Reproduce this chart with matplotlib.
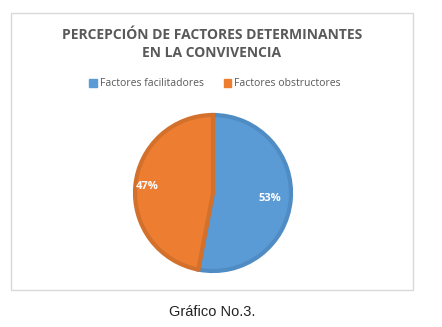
import matplotlib
matplotlib.use('Agg')
import matplotlib.pyplot as plt
from matplotlib.patches import Rectangle, Patch
import numpy as np

# data
categories = ['Factores facilitadores', 'Factores obstructores']
values = [53, 47]
colors = ['#5B9BD5', '#ED7D31']
edge_colors = ['#4F8CC4', '#D2702C']
label_dist = [0.72, 0.83]

title = 'PERCEPCIÓN DE FACTORES DETERMINANTES\nEN LA CONVIVENCIA'
caption = 'Gráfico No.3.'

W, H = 442, 327
fig = plt.figure(figsize=(W / 100, H / 100), dpi=100)
fig.patch.set_facecolor('white')

# chart frame
fig.add_artist(Rectangle((11 / W, 1 - 290 / H), (413 - 11) / W, (290 - 13) / H,
                         transform=fig.transFigure, fill=False,
                         edgecolor='#D9D9D9', linewidth=1.0))

# pie axes: centre (213,193), radius 80 px
cx, cy, r = 213, 193, 80
ax = fig.add_axes([(cx - r) / W, (H - cy - r) / H, 2 * r / W, 2 * r / H])
wedges, texts = ax.pie(values, colors=colors, startangle=90, counterclock=False,
                       radius=0.975,
                       wedgeprops=dict(linewidth=3.0))
for w, ec in zip(wedges, edge_colors):
    w.set_edgecolor(ec)

# percentage labels
total = sum(values)
start = 90.0
for v, d in zip(values, label_dist):
    mid = np.deg2rad(start - v / total * 180.0)
    ax.text(d * np.cos(mid), d * np.sin(mid), f'{round(v / total * 100)}%',
            ha='center', va='center', color='white', fontsize=8,
            fontweight='bold', family='Open Sans')
    start -= v / total * 360.0
ax.set_xlim(-1, 1)
ax.set_ylim(-1, 1)
ax.set_aspect('equal')
ax.axis('off')

fig.text(212 / W, 1 - 44 / H, title, ha='center', va='center',
         fontsize=10, fontweight='bold', color='#595959',
         family='Open Sans', linespacing=1.3)

handles = [Patch(facecolor=c, edgecolor=c) for c in colors]
fig.legend(handles, categories, loc='center', bbox_to_anchor=(215 / W, 1 - 84 / H),
           ncol=2, frameon=False, handlelength=0.7, handleheight=0.7,
           handletextpad=0.3, columnspacing=1.9, labelcolor='#595959',
           prop={'family': 'Open Sans', 'size': 7.5})

fig.text(212 / W, 1 - 312 / H, caption, ha='center', va='center',
         fontsize=10.5, color='#222222', family='Liberation Sans')

fig.savefig('out.png', dpi=100)
